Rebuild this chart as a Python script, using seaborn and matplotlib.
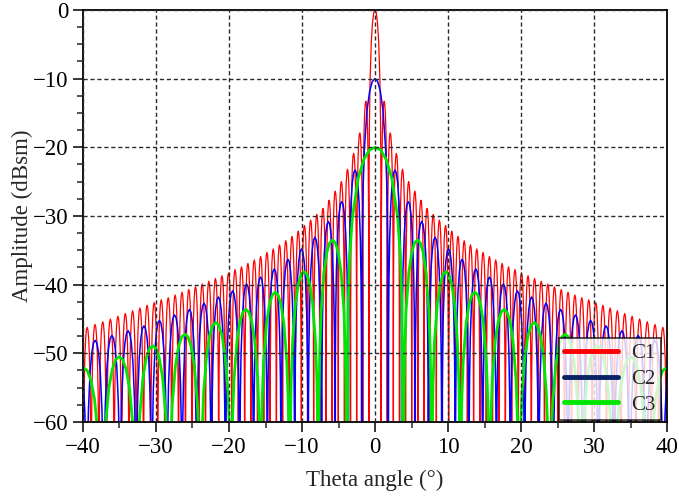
import numpy as np
import pandas as pd
import matplotlib
matplotlib.use("Agg")
import matplotlib.pyplot as plt
from matplotlib.lines import Line2D
from matplotlib.ticker import MultipleLocator
import seaborn as sns

# angles of the pattern nulls (deg, positive side, pattern is symmetric)
red_nulls = [0.84, 1.67, 2.51, 3.35, 4.19, 5.03, 5.87, 6.71, 7.55, 8.40, 9.24, 10.09,
             10.94, 11.79, 12.65, 13.51, 14.37, 15.24, 16.10, 16.98, 17.85, 18.73, 19.62,
             20.51, 21.41, 22.31, 23.22, 24.13, 25.05, 25.97, 26.91, 27.85, 28.80, 29.76,
             30.73, 31.71, 32.70, 33.70, 34.71, 35.73, 36.77, 37.82, 38.89, 39.97, 41.07]
blue_nulls = [1.82, 3.65, 5.47, 7.31, 9.15, 11.00, 12.86, 14.74, 16.63, 18.54, 20.48,
              22.43, 24.42, 26.43, 28.49, 30.58, 32.72, 34.92, 37.17, 39.49, 41.90]
green_nulls = [3.87, 7.76, 11.68, 15.66, 19.72, 23.89, 28.20, 32.68, 37.41, 42.45]

# lobe peak levels (dBsm), main lobe first, then side lobes going outward
red_peaks = [0, -13.3, -17.9, -20.9, -23.2, -25.0, -26.4, -27.7, -28.9, -29.8, -30.6,
             -31.4, -32.2, -33.0, -33.6, -34.2, -34.8, -35.3, -35.9, -36.4, -36.9, -37.4,
             -37.8, -38.3, -38.7, -39.1, -39.5, -39.9, -40.3, -40.7, -41.1, -41.5, -41.9,
             -42.2, -42.6, -43.0, -43.4, -43.8, -44.2, -44.6, -45.0, -45.4, -45.8, -46.2,
             -46.6]
blue_peaks = [-10, -23.3, -27.9, -30.8, -33.1, -34.8, -36.3, -37.7, -38.9, -39.9, -40.9,
              -41.8, -42.7, -43.6, -44.4, -45.2, -46.0, -46.7, -47.4, -48.1, -48.8]
green_peaks = [-20, -33.5, -38.1, -41.1, -43.6, -45.5, -47.2, -48.9, -50.5, -52.1]

# shape of one lobe: position between its two nulls (0..1) and drop below the lobe top (dB)
lobe_pos = [0, 0.02, 0.05, 0.1, 0.2, 0.3, 0.4, 0.5, 0.6, 0.7, 0.8, 0.9, 0.95, 0.98, 1]
lobe_drop = [-80, -24.1, -16.1, -10.2, -4.6, -1.8, -0.4, 0, -0.4, -1.8, -4.6, -10.2,
             -16.1, -24.1, -80]

labels = ["C1", "C2", "C3"]
line_colors = ["#ff0000", "#0000ff", "#00e600"]
legend_colors = ["#ff0000", "#0a2266", "#00e600"]
line_widths = [0.9, 1.1, 2.0]


def lobes_to_curve(nulls, peaks):
    nulls = np.asarray(nulls, dtype=float)
    peaks = np.asarray(peaks, dtype=float)
    edges = np.concatenate([-nulls[::-1], nulls])
    levels = np.concatenate([peaks[:0:-1], peaks])
    pos = np.asarray(lobe_pos)
    drop = np.asarray(lobe_drop)
    xs, ys = [], []
    for i, lev in enumerate(levels):
        xs.append(edges[i] + pos * (edges[i + 1] - edges[i]))
        ys.append(lev + drop)
    return np.concatenate(xs), np.concatenate(ys)


frames = []
for name, nl, pk in zip(labels, [red_nulls, blue_nulls, green_nulls],
                        [red_peaks, blue_peaks, green_peaks]):
    th, amp = lobes_to_curve(nl, pk)
    frames.append(pd.DataFrame({"theta": th, "amp": amp, "curve": name}))
df = pd.concat(frames, ignore_index=True)

sns.set_style("ticks")
plt.rcParams["font.family"] = ["Liberation Serif", "DejaVu Serif"]

fig = plt.figure(figsize=(6.79, 4.98), dpi=100)
ax = fig.add_axes([83 / 679, 1 - 422 / 498, 584 / 679, 412 / 498])

for name, col, lw in zip(labels, line_colors, line_widths):
    sub = df[df["curve"] == name]
    sns.lineplot(data=sub, x="theta", y="amp", ax=ax, color=col, linewidth=lw,
                 sort=False, estimator=None, legend=False)

ax.set_xlim(-40, 40)
ax.set_ylim(-60, 0)
ax.xaxis.set_major_locator(MultipleLocator(10))
ax.xaxis.set_minor_locator(MultipleLocator(5))
ax.yaxis.set_major_locator(MultipleLocator(10))
ax.yaxis.set_minor_locator(MultipleLocator(2.5))
ax.tick_params(which="major", direction="out", length=7, width=1.1, labelsize=16.5,
               colors="black")
ax.tick_params(which="minor", direction="out", length=4, width=1.1)
ax.grid(True, which="major", color="#2a2a2a", linestyle=(0, (3, 2)), linewidth=1.0)
ax.set_axisbelow(False)
for sp in ax.spines.values():
    sp.set_visible(True)
    sp.set_linewidth(1.3)
    sp.set_color("black")

ax.set_xlabel("Theta angle (°)", fontsize=16.5, labelpad=9)
ax.set_ylabel("Amplitude (dBsm)", fontsize=16.5, labelpad=0)

handles = [Line2D([0], [0], color=c, linewidth=3.5) for c in legend_colors]
leg = ax.legend(handles, labels, loc="lower right", bbox_to_anchor=(0.989, 0.005),
                borderaxespad=0, fontsize=15, handlelength=2.6, handletextpad=0.6,
                labelspacing=0.3, frameon=True, fancybox=False, borderpad=0.25)
leg.get_frame().set_edgecolor("black")
leg.get_frame().set_linewidth(1.2)
leg.set_zorder(10)

fig.savefig("out.png", dpi=100)
